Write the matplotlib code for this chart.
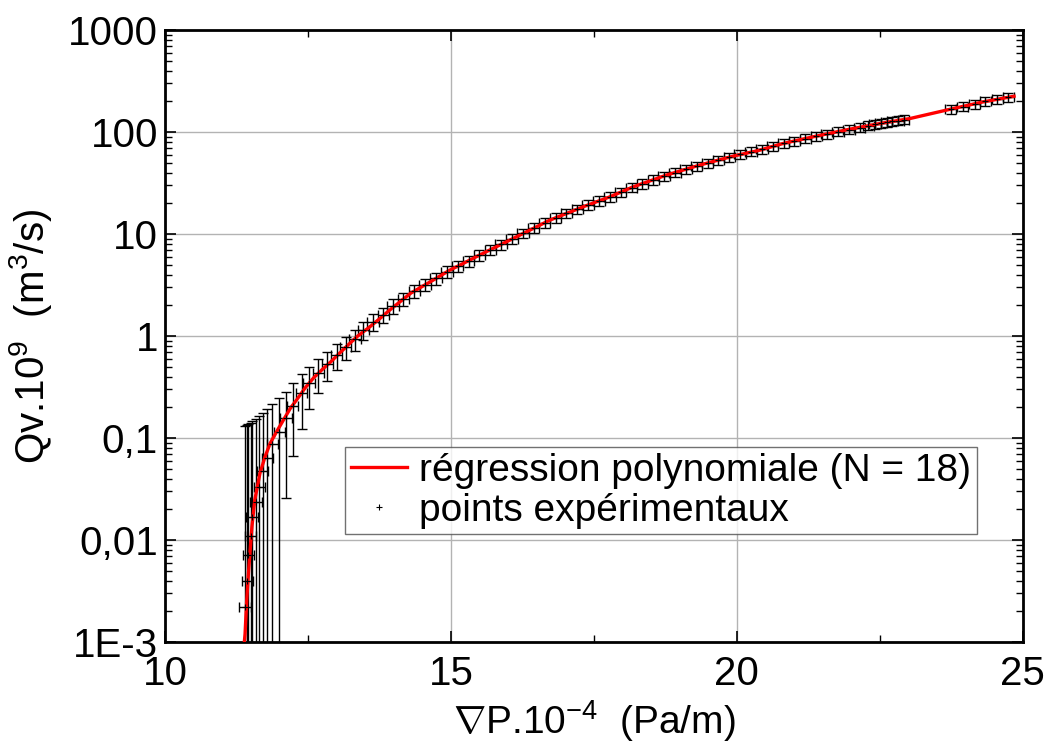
import matplotlib
matplotlib.use("Agg")
from matplotlib import pyplot as plt
from matplotlib.ticker import FixedLocator, FixedFormatter, LogLocator, NullFormatter, MultipleLocator

plt.rcParams['font.family'] = ['Liberation Sans', 'DejaVu Sans']
plt.rcParams['mathtext.fontset'] = 'custom'
plt.rcParams['mathtext.rm'] = 'Liberation Sans'

# experimental points (x = grad P . 1e-4, y = Qv . 1e9, yerr)
pts_x = [11.40, 11.44, 11.46, 11.50, 11.52, 11.59, 11.65, 11.71, 11.79, 11.88,
         12.00, 12.12, 12.23, 12.39, 12.52, 12.68, 12.84, 13.00, 13.16, 13.32,
         13.47, 13.64, 13.82, 13.99, 14.17, 14.36, 14.55, 14.74, 14.93, 15.12,
         15.31, 15.50, 15.69, 15.88, 16.07, 16.26, 16.45, 16.64, 16.83, 17.02,
         17.21, 17.40, 17.59, 17.78, 17.97, 18.16, 18.35, 18.54, 18.73, 18.92,
         19.11, 19.30, 19.49, 19.68, 19.87, 20.06, 20.25, 20.44, 20.63, 20.82,
         21.01, 21.20, 21.39, 21.58, 21.77, 21.96, 22.15, 22.30, 22.42, 22.52,
         22.62, 22.72, 22.82, 22.92, 23.74, 23.95, 24.16, 24.35, 24.56, 24.75]
pts_y = [0.0022, 0.0040, 0.0071, 0.0109, 0.0167, 0.0237, 0.0329, 0.0478, 0.0632, 0.0873,
         0.115, 0.156, 0.206, 0.274, 0.344, 0.437, 0.533, 0.65, 0.78, 0.93,
         1.14, 1.37, 1.61, 1.97, 2.32, 2.78, 3.20, 3.68, 4.27, 4.84,
         5.48, 6.22, 7.03, 7.93, 8.95, 10.2, 11.5, 12.9, 14.4, 16.0,
         17.6, 19.4, 21.2, 23.2, 25.8, 28.6, 31.3, 34.1, 37.2, 40.1,
         43.2, 46.5, 49.8, 53.2, 56.8, 60.5, 64.4, 68.5, 72.9, 77.6,
         82.0, 86.5, 91.4, 96.1, 101, 106, 111, 116, 119, 122,
         125, 128, 130, 133, 167, 178, 189, 200, 211, 221]
pts_yerr = [0.13, 0.13, 0.13, 0.13, 0.13, 0.13, 0.13, 0.13, 0.13, 0.13,
            0.13, 0.13, 0.14, 0.15, 0.15, 0.16, 0.17, 0.19, 0.2, 0.21,
            0.23, 0.26, 0.28, 0.32, 0.35, 0.4, 0.44, 0.49, 0.55, 0.6,
            0.67, 0.74, 0.82, 0.91, 1.0, 1.1, 1.3, 1.4, 1.6, 1.7,
            1.9, 2.1, 2.2, 2.4, 2.7, 3.0, 3.3, 3.5, 3.8, 4.1,
            4.4, 4.8, 5.1, 5.4, 5.8, 6.2, 6.6, 7.0, 7.4, 7.9,
            8.3, 8.8, 9.3, 9.7, 10.2, 10.7, 11.2, 11.7, 12.0, 12.3,
            12.6, 12.9, 13.1, 13.4, 16.8, 17.9, 19.0, 20.1, 21.2, 22.2]
pts_xerr = 0.1

# polynomial regression curve
fit_x = [11.38, 11.40, 11.43, 11.46, 11.49, 11.52, 11.57, 11.66, 11.75, 11.84,
         11.95, 12.07, 12.19, 12.30, 12.45, 12.60, 12.75, 12.90, 13.06, 13.23,
         13.37, 13.58, 13.76, 13.93, 14.11, 14.30, 14.69, 14.98, 15.16, 15.56,
         16.15, 16.73, 17.31, 17.78, 18.19, 18.77, 19.35, 19.94, 20.40, 20.81,
         21.39, 21.98, 22.56, 23.03, 23.72, 24.31, 24.85]
fit_y = [0.0009, 0.0012, 0.0026, 0.0048, 0.008, 0.0135, 0.0247, 0.045, 0.0657, 0.089,
         0.115, 0.15, 0.195, 0.236, 0.31, 0.39, 0.47, 0.56, 0.686, 0.847,
         1.0, 1.23, 1.49, 1.80, 2.17, 2.64, 3.54, 4.43, 4.97, 6.47,
         9.42, 13.7, 18.5, 23.2, 29.1, 37.9, 47.5, 58.2, 66.5, 77.4,
         91.4, 107, 123, 136, 167, 198, 225]

y_ticks = [1e-3, 1e-2, 1e-1, 1, 10, 100, 1000]
y_labels = ['1E-3', '0,01', '0,1', '1', '10', '100', '1000']
x_ticks = [10, 15, 20, 25]

fig = plt.figure(figsize=(10.51, 7.54), dpi=100)
ax = fig.add_axes([0.157, 0.1485, 0.816, 0.8115])

ax.errorbar(pts_x, pts_y, yerr=pts_yerr, xerr=pts_xerr, fmt='none',
            ecolor='black', elinewidth=1.0, capsize=3.6, capthick=1.0, zorder=2)
ax.plot(fit_x, fit_y, color='red', lw=2.4, zorder=3, label='régression polynomiale (N = 18)')
ax.plot(pts_x, pts_y, ls='none', marker='+', ms=5, mew=0.8, color='black', zorder=4,
        label='points expérimentaux')

ax.set_yscale('log')
ax.set_xlim(10, 25)
ax.set_ylim(1e-3, 1000)
ax.yaxis.set_major_locator(FixedLocator(y_ticks))
ax.yaxis.set_major_formatter(FixedFormatter(y_labels))
ax.yaxis.set_minor_locator(LogLocator(base=10, subs=range(2, 10), numticks=20))
ax.yaxis.set_minor_formatter(NullFormatter())
ax.xaxis.set_major_locator(FixedLocator(x_ticks))
ax.xaxis.set_minor_locator(MultipleLocator(2.5))

ax.grid(True, which='major', color='0.7', lw=1.0)
ax.tick_params(which='both', direction='in', top=True, right=True, labelsize=29)
ax.tick_params(axis='y', pad=5)
ax.tick_params(axis='x', pad=9)
ax.tick_params(which='major', length=8, width=1.2)
ax.tick_params(which='minor', length=5, width=1.0)
for s in ax.spines.values():
    s.set_linewidth(2.0)

ax.set_xlabel(r'$\nabla$P.10$^{-4}$  (Pa/m)', fontsize=28, labelpad=4)
ax.set_ylabel(r'Qv.10$^{9}$  (m$^{3}$/s)', fontsize=29, labelpad=10)

leg = ax.legend(loc='upper left', bbox_to_anchor=(0.21, 0.319), borderaxespad=0,
                fontsize=28, frameon=True, fancybox=False, edgecolor='0.3',
                handlelength=1.45, handletextpad=0.3, borderpad=0.15, labelspacing=0.1)
leg.get_frame().set_linewidth(1.0)

fig.savefig('out.png', dpi=100)
